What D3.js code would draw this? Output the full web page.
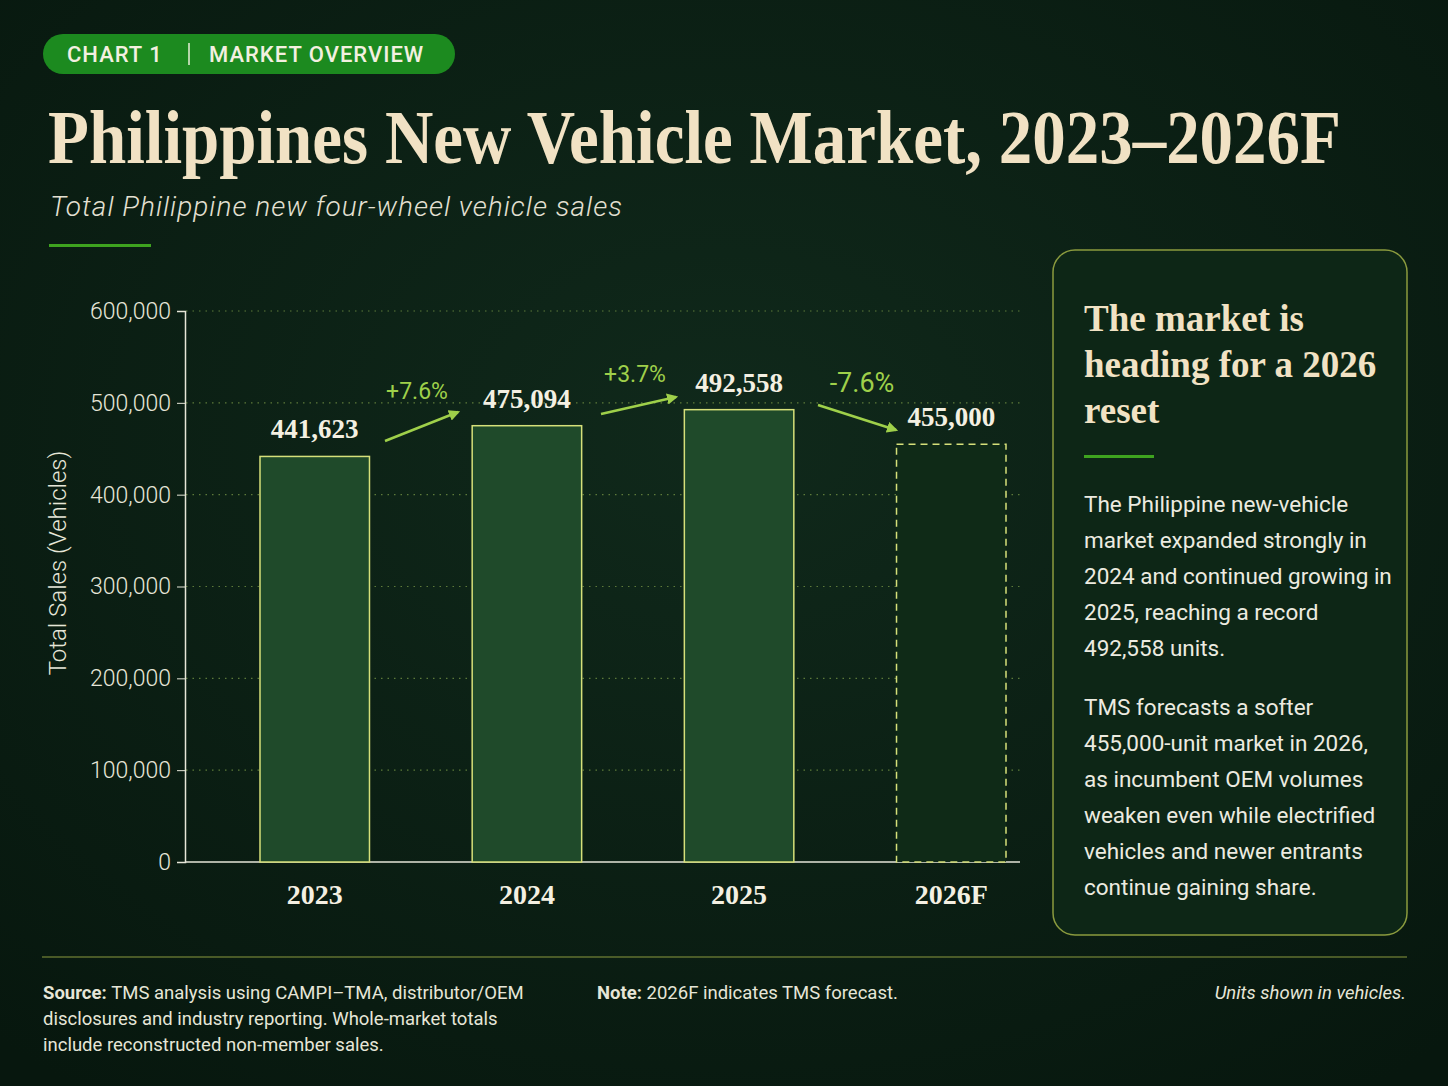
<!DOCTYPE html>
<html><head><meta charset="utf-8">
<script src="https://cdn.jsdelivr.net/npm/d3@7"></script>
<style>
body{margin:0;background:#0b1f14;}
svg text{font-family:Roboto,"Noto Sans",sans-serif;}
.serif{font-family:"Liberation Serif","DejaVu Serif",serif;}
</style></head><body>
<svg id="c" width="1448" height="1086"></svg>
<script>
const years = ["2023", "2024", "2025", "2026F"];
const sales = [441623, 475094, 492558, 455000];
const changes = ["+7.6%", "+3.7%", "-7.6%"];
const yTicks = [0, 100000, 200000, 300000, 400000, 500000, 600000];
const panelParas = [
  ["The Philippine new-vehicle", "market expanded strongly in", "2024 and continued growing in", "2025, reaching a record", "492,558 units."],
  ["TMS forecasts a softer", "455,000-unit market in 2026,", "as incumbent OEM volumes", "weaken even while electrified", "vehicles and newer entrants", "continue gaining share."]
];

const svg = d3.select("#c");
const cream = "#f1e2c4", lime = "#9fd04a", edge = "#d6e07a";

const defs = svg.append("defs");
const bg = defs.append("radialGradient").attr("id", "bg").attr("cx", "50%").attr("cy", "40%").attr("r", "75%");
bg.append("stop").attr("offset", "0%").attr("stop-color", "#10291b");
bg.append("stop").attr("offset", "100%").attr("stop-color", "#07170e");
svg.append("rect").attr("width", 1448).attr("height", 1086).attr("fill", "url(#bg)");

// header tag
svg.append("rect").attr("x", 43).attr("y", 34).attr("width", 412).attr("height", 40).attr("rx", 20).attr("fill", "#1c8a1f");
svg.append("text").attr("x", 67).attr("y", 62).attr("fill", "#f3f0e0").attr("font-size", 22).attr("font-weight", 500)
  .attr("letter-spacing", 1).text("CHART 1");
svg.append("line").attr("x1", 189).attr("x2", 189).attr("y1", 43).attr("y2", 65).attr("stroke", "#e8efd8").attr("stroke-width", 1.5);
svg.append("text").attr("x", 209).attr("y", 62).attr("fill", "#f3f0e0").attr("font-size", 22).attr("font-weight", 500)
  .attr("letter-spacing", 1).text("MARKET OVERVIEW");

svg.append("text").attr("class", "serif").attr("x", 48).attr("y", 163).attr("fill", cream)
  .attr("font-size", 76).attr("font-weight", "bold")
  .attr("textLength", 1293).attr("lengthAdjust", "spacingAndGlyphs").text("Philippines New Vehicle Market, 2023–2026F");
svg.append("text").attr("x", 50).attr("y", 216).attr("fill", "#e4e0d2").attr("font-size", 28)
  .attr("font-style", "italic").attr("font-weight", 300)
  .attr("textLength", 572).text("Total Philippine new four-wheel vehicle sales");
svg.append("rect").attr("x", 49).attr("y", 244).attr("width", 102).attr("height", 3).attr("fill", "#3ea31f");

// chart
const y = d3.scaleLinear().domain([0, 600000]).range([862, 311]);
const x = d3.scaleBand().domain(years).range([260, 1006]).paddingInner(0.484).paddingOuter(0);

svg.append("g").selectAll("line").data(yTicks.slice(1)).join("line")
  .attr("x1", 186).attr("x2", 1020).attr("y1", d => y(d)).attr("y2", d => y(d))
  .attr("stroke", "#5d7a3a").attr("stroke-width", 1.2).attr("stroke-dasharray", "1.5 5");

const yAxis = svg.append("g").attr("transform", "translate(185,0)")
  .call(d3.axisLeft(y).tickValues(yTicks).tickFormat(d3.format(",")).tickSize(8));
yAxis.select(".domain").attr("stroke", "#e6e6d8").attr("stroke-width", 1.5);
yAxis.selectAll(".tick line").attr("stroke", "#e6e6d8");
yAxis.selectAll(".tick text").attr("fill", "#e6e6d8").attr("font-size", 23).attr("font-weight", 300).attr("x", -14);
svg.append("line").attr("x1", 185).attr("x2", 1020).attr("y1", y(0)).attr("y2", y(0)).attr("stroke", "#e6e6d8").attr("stroke-width", 1.5);

svg.append("text").attr("transform", "translate(66,563) rotate(-90)").attr("text-anchor", "middle")
  .attr("fill", "#e6e6d8").attr("font-size", 24).attr("font-weight", 300).text("Total Sales (Vehicles)");

const data = years.map((yr, i) => ({ yr, v: sales[i], f: yr.endsWith("F") }));
svg.append("g").selectAll("rect").data(data).join("rect")
  .attr("x", d => x(d.yr)).attr("width", x.bandwidth())
  .attr("y", d => y(d.v)).attr("height", d => y(0) - y(d.v))
  .attr("fill", d => d.f ? "#0f2a17" : "#1f4a2a")
  .attr("stroke", edge).attr("stroke-width", 1.5)
  .attr("stroke-dasharray", d => d.f ? "7 5" : null);

svg.append("g").selectAll("text").data(data).join("text").attr("class", "serif")
  .attr("x", d => x(d.yr) + x.bandwidth() / 2).attr("y", d => y(d.v) - 18)
  .attr("text-anchor", "middle").attr("fill", "#f4f0e2").attr("font-size", 27).attr("font-weight", "bold")
  .text(d => d3.format(",")(d.v));

svg.append("g").selectAll("text").data(data).join("text").attr("class", "serif")
  .attr("x", d => x(d.yr) + x.bandwidth() / 2).attr("y", 904)
  .attr("text-anchor", "middle").attr("fill", "#f4f0e2").attr("font-size", 28).attr("font-weight", "bold")
  .text(d => d.yr);

// change arrows
defs.append("marker").attr("id", "ah").attr("viewBox", "0 0 10 10").attr("refX", 8).attr("refY", 5)
  .attr("markerWidth", 4.5).attr("markerHeight", 4.5).attr("orient", "auto")
  .append("path").attr("d", "M0,0L10,5L0,10z").attr("fill", lime);
const arrows = [
  { x1: 385, y1: 441, x2: 458, y2: 412, lx: 417, ly: 399 },
  { x1: 601, y1: 414, x2: 676, y2: 397, lx: 635, ly: 382 },
  { x1: 818, y1: 405, x2: 896, y2: 430, lx: 862, ly: 392 }
];
arrows.forEach((a, i) => {
  svg.append("line").attr("x1", a.x1).attr("y1", a.y1).attr("x2", a.x2).attr("y2", a.y2)
    .attr("stroke", lime).attr("stroke-width", 2.5).attr("marker-end", "url(#ah)");
  svg.append("text").attr("x", a.lx).attr("y", a.ly).attr("text-anchor", "middle")
    .attr("fill", lime).attr("font-size", i === 2 ? 27 : 23).text(changes[i]);
});

// side panel
svg.append("rect").attr("x", 1053).attr("y", 250).attr("width", 354).attr("height", 685).attr("rx", 22)
  .attr("fill", "#0d2616").attr("stroke", "#8a9a3e").attr("stroke-width", 1.5);
["The market is", "heading for a 2026", "reset"].forEach((t, i) => {
  svg.append("text").attr("class", "serif").attr("x", 1084).attr("y", 331 + i * 46).attr("fill", cream)
    .attr("font-size", 37).attr("font-weight", "bold").text(t);
});
svg.append("rect").attr("x", 1084).attr("y", 455).attr("width", 70).attr("height", 3).attr("fill", "#3ea31f");
panelParas.forEach((p, j) => {
  p.forEach((t, i) => {
    svg.append("text").attr("x", 1084).attr("y", 512 + j * 203 + i * 36).attr("fill", "#ecebe0")
      .attr("font-size", 22.5).text(t);
  });
});

// footer
svg.append("line").attr("x1", 42).attr("x2", 1407).attr("y1", 957).attr("y2", 957).attr("stroke", "#8a9a3e").attr("stroke-width", 1.2);
const src = ["TMS analysis using CAMPI–TMA, distributor/OEM", "disclosures and industry reporting. Whole-market totals", "include reconstructed non-member sales."];
src.forEach((t, i) => {
  const tx = svg.append("text").attr("x", 43).attr("y", 999 + i * 26).attr("fill", "#e6e6d8").attr("font-size", 18.5);
  if (i === 0) tx.append("tspan").attr("font-weight", "bold").text("Source: ");
  tx.append("tspan").text(t);
});
const nt = svg.append("text").attr("x", 597).attr("y", 999).attr("fill", "#e6e6d8").attr("font-size", 18.5);
nt.append("tspan").attr("font-weight", "bold").text("Note: ");
nt.append("tspan").text("2026F indicates TMS forecast.");
svg.append("text").attr("x", 1406).attr("y", 999).attr("text-anchor", "end").attr("fill", "#e6e6d8")
  .attr("font-size", 18.5).attr("font-style", "italic").text("Units shown in vehicles.");
</script></body></html>
